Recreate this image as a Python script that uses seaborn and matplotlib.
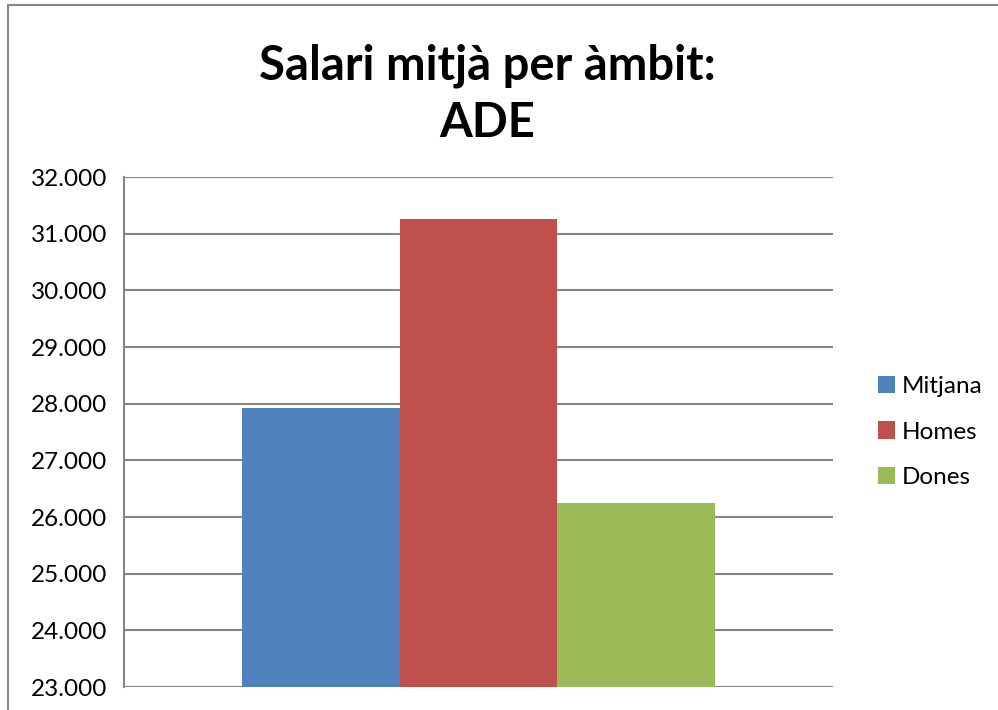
import matplotlib.pyplot as plt
import seaborn as sns
from matplotlib.patches import Rectangle

# Dades del grafic
categories = ["Mitjana", "Homes", "Dones"]
salaris = [27920, 31260, 26240]
colors = ["#4F81BD", "#C0504D", "#9BBB59"]
yticks = list(range(23000, 33000, 1000))
ytick_labels = ["{:,}".format(v).replace(",", ".") for v in yticks]

sns.set_style("white")
plt.rcParams["font.family"] = ["Lato", "DejaVu Sans"]
plt.rcParams["text.color"] = "black"
plt.rcParams["ytick.color"] = "black"

fig = plt.figure(figsize=(9.98, 7.1), dpi=100)
ax = fig.add_axes([124 / 998, 1 - 687 / 710, (833 - 124) / 998, (687 - 177) / 710])

sns.barplot(x=[""] * len(categories), y=salaris, hue=categories,
            palette=colors, width=0.668, saturation=1, linewidth=0,
            ax=ax, legend=True)

ax.set_ylim(23000, 32000)
ax.set_xlim(-0.5, 0.5)
ax.set_yticks(yticks)
ax.set_yticklabels(ytick_labels, fontsize=17.5)
ax.set_xticks([])
ax.set_xlabel("")
ax.set_ylabel("")
ax.tick_params(axis="y", length=0, pad=12)

ax.grid(axis="y", color="#868686", linewidth=1.5)
ax.set_axisbelow(True)
for s in ["top", "right", "bottom"]:
    ax.spines[s].set_visible(False)
ax.spines["left"].set_color("#868686")
ax.spines["left"].set_linewidth(1.5)

leg = ax.legend(loc="center left", bbox_to_anchor=(856 / 998, 1 - 432 / 710),
                bbox_transform=fig.transFigure, frameon=False, fontsize=17.5,
                handlelength=0.7, handleheight=0.7, handletextpad=0.3,
                labelspacing=1.0)

fig.suptitle("Salari mitjà per àmbit:\nADE", x=487 / 998, y=1 - 44 / 710,
             fontsize=34, fontweight="bold", linespacing=1.35, va="top")

# vora del grafic
fig.patches.append(Rectangle((8 / 998, -0.01), 1.0, 1 - 5 / 710 + 0.01,
                             transform=fig.transFigure, fill=False,
                             edgecolor="#868686", linewidth=1.5))

fig.savefig("out.png", dpi=100)
